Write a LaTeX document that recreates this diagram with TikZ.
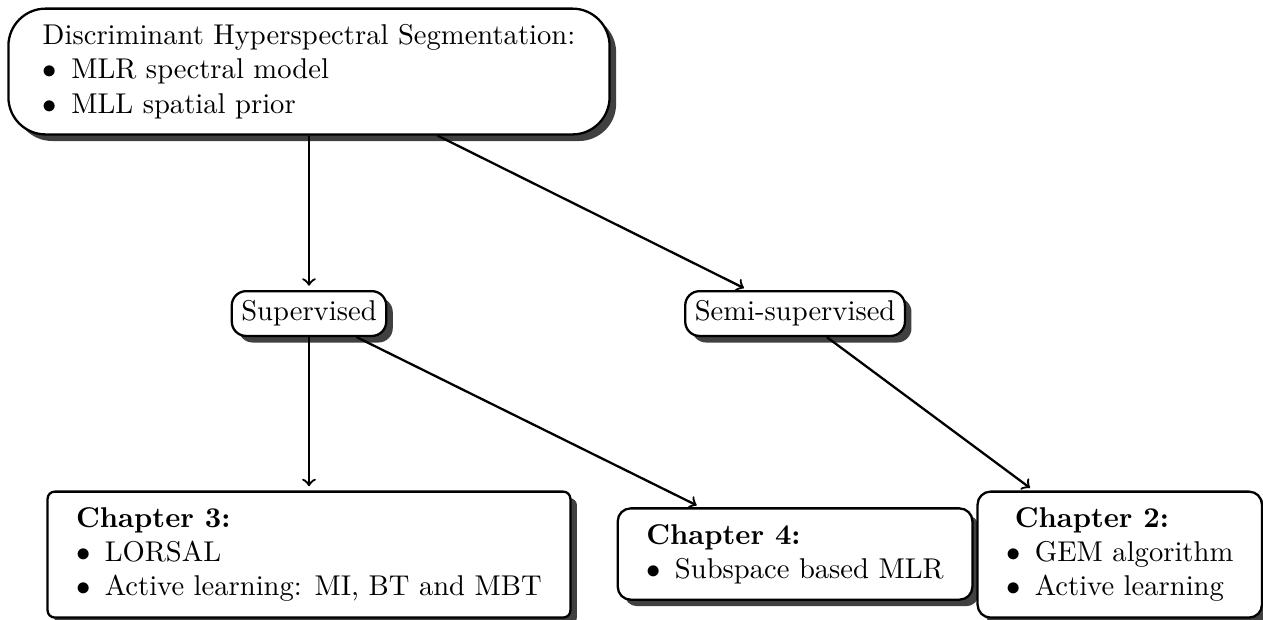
\documentclass[tikz,border=0pt]{standalone}
\usetikzlibrary{shadows}
\tikzset{
  boxshadow/.style={drop shadow={shadow xshift=2.3pt, shadow yshift=-2.3pt, fill=black!75, opacity=1}},
  topbox/.style={draw, thick, fill=white, rounded corners=13pt, align=left, inner xsep=12pt, inner ysep=5.5pt, boxshadow},
  modebox/.style={draw, thick, fill=white, rounded corners=5pt, boxshadow},
  chapbox/.style={draw, thick, fill=white, rounded corners=4.5pt, align=left, inner xsep=10pt, inner ysep=5.5pt, boxshadow}
}
\newcommand{\itm}{$\bullet$\enskip}
\begin{document}
\begin{tikzpicture}
  \useasboundingbox (0,0) rectangle (15.52,-7.607);
  \node[topbox] (seg) at (3.797,-0.879) {Discriminant Hyperspectral Segmentation:\\ \itm MLR spectral model\\ \itm MLL spatial prior};
  \node[modebox] (sup) at (3.797,-3.853) {Supervised};
  \node[modebox] (semi) at (9.770,-3.853) {Semi-supervised};
  \node[chapbox, rounded corners=2.5pt] (ch3) at (3.797,-6.815) {\textbf{Chapter 3:}\\ \itm LORSAL\\ \itm Active learning: MI, BT and MBT};
  \node[chapbox] (ch4) at (9.770,-6.808) {\textbf{Chapter 4:}\\ \itm Subspace based MLR};
  \node[chapbox] (ch2) at (13.76,-6.815) {\hspace{3pt}\textbf{Chapter 2:}\\ \itm GEM algorithm\\ \itm Active learning};
  \begin{scope}[->, thick, shorten >=1.5pt]
    \draw (seg) to (sup);
    \draw (seg) to (semi);
    \draw (sup) to (ch3);
    \draw (sup) to (ch4);
    \draw (semi) to (ch2);
  \end{scope}
\end{tikzpicture}
\end{document}
